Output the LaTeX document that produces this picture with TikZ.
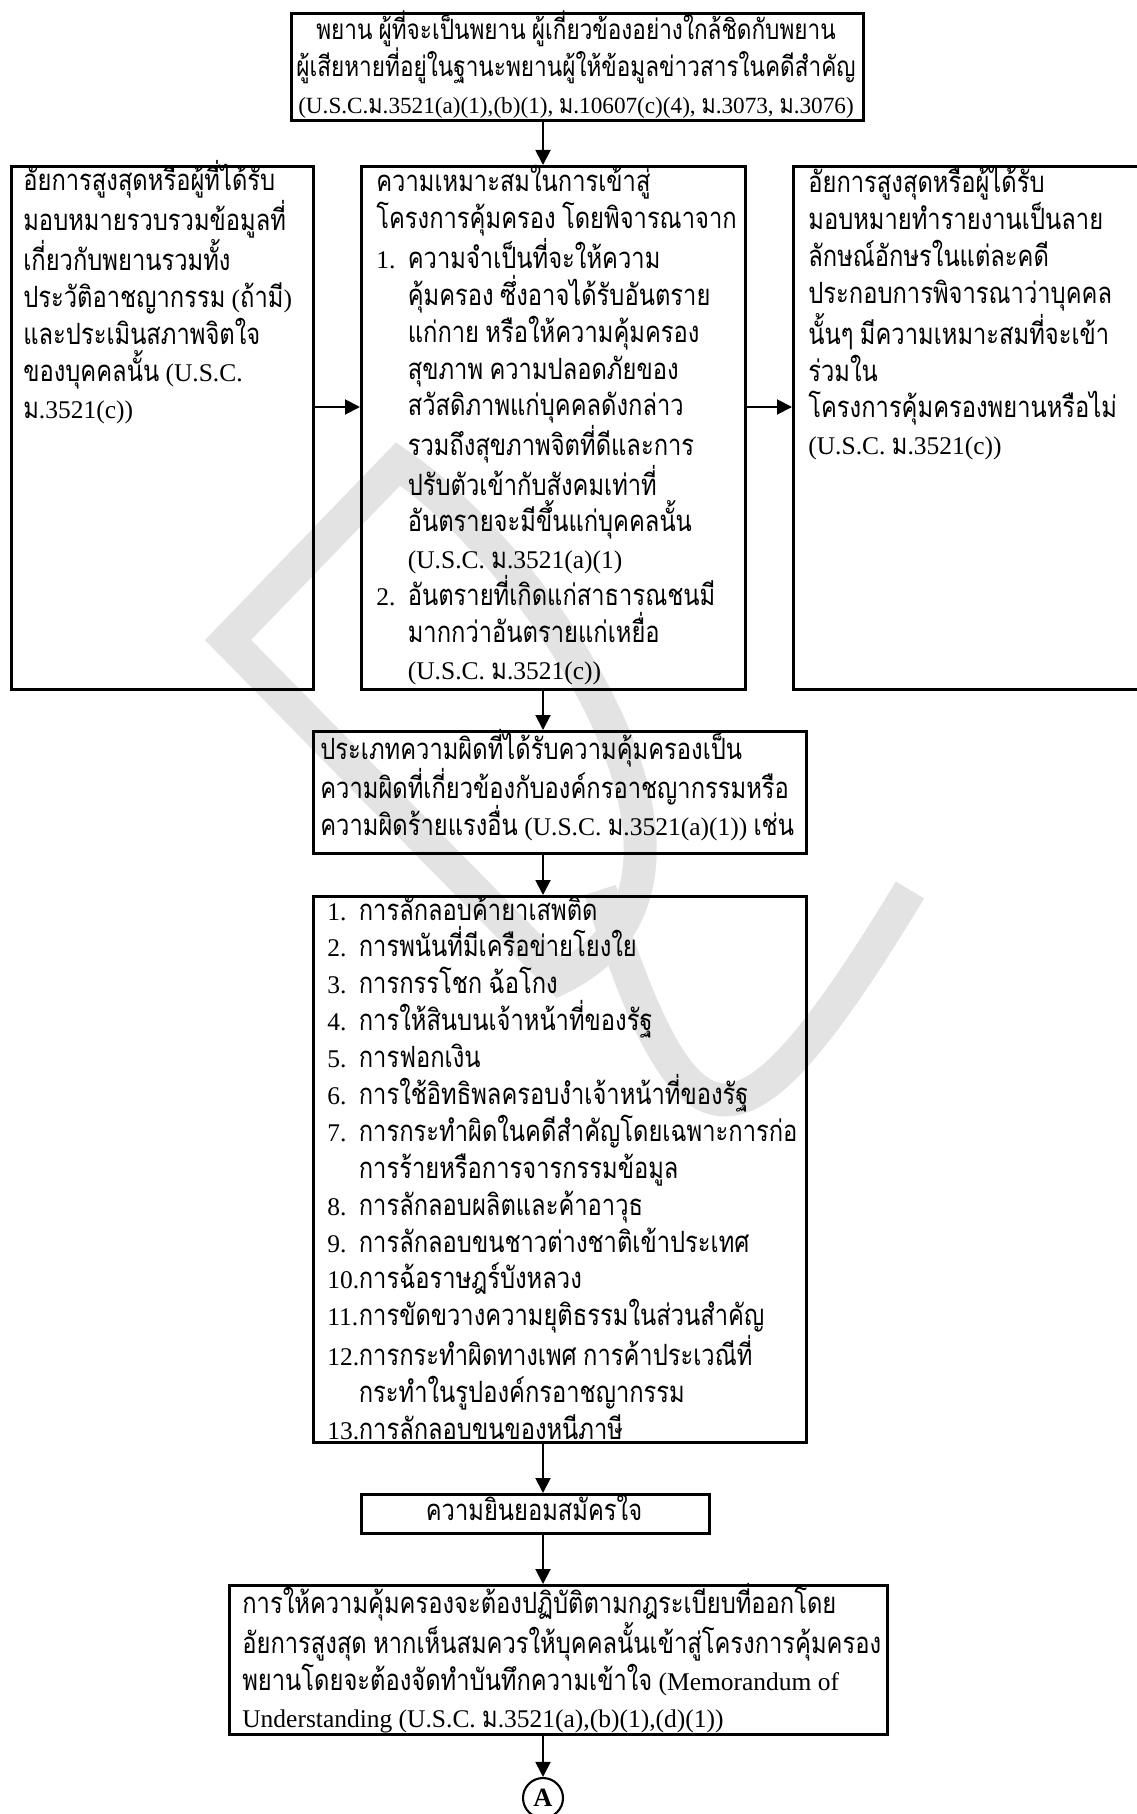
\documentclass[tikz,border=0pt]{standalone}
\usepackage{fontspec}
\setmainfont{Liberation Serif}
\newfontfamily\thaifont[Script=Thai,Scale=1.15,FakeStretch=0.81]{Loma}
\usetikzlibrary{arrows.meta}

% Thai letters switch to the Thai font by themselves
\XeTeXinterchartokenstate=1
\newXeTeXintercharclass\thaiclass
\makeatletter
\count@="0E00
\loop
  \XeTeXcharclass\count@=\thaiclass
  \ifnum\count@<"0E7F \advance\count@\@ne \repeat
\makeatother
\XeTeXinterchartoks 0 \thaiclass = {\thaifont}
\XeTeXinterchartoks 4095 \thaiclass = {\thaifont}
\XeTeXinterchartoks \thaiclass 0 = {\rmfamily}
\XeTeXinterchartoks \thaiclass 4095 = {\rmfamily}
\lineskiplimit=-50pt

\newcommand{\itm}[2]{\makebox[0.63cm][l]{#1}#2}
\newcommand{\cont}{\hspace*{0.63cm}}

\begin{document}
\begin{tikzpicture}[x=0.02cm, y=-0.02cm,
  box/.style={draw, line width=1.6pt, inner sep=0pt, anchor=north west},
  txt/.style={inner sep=0pt, anchor=base west, font=\fontsize{14.5}{21}\selectfont},
  arr/.style={-{Triangle[length=0.3cm, width=0.3cm]}, line width=1.1pt}]
\useasboundingbox (0,0) rectangle (1136,1814);

% watermark
\begin{scope}[draw=gray!22, line width=0.66cm]
\draw (228,640) -- (398,464) .. controls (540,560) and (760,880) .. (560,978) -- cycle;
\draw (600,890) .. controls (690,1170) and (740,1170) .. (910,890);
\end{scope}

% boxes
\node[box, minimum width=11.44cm, minimum height=2.14cm] (top) at (290,12) {};
\node[box, minimum width=6.04cm, minimum height=10.46cm] (left) at (10,165) {};
\node[box, minimum width=7.68cm, minimum height=10.46cm] (mid) at (360,165) {};
\node[box, minimum width=7.2cm, minimum height=10.46cm] (right) at (792,165) {};
\node[box, minimum width=9.86cm, minimum height=2.44cm] (kind) at (312,730) {};
\node[box, minimum width=9.86cm, minimum height=10.92cm] (list) at (312,895) {};
\node[box, minimum width=6.96cm, minimum height=0.78cm] (consent) at (360,1493) {};
\node[box, minimum width=13.16cm, minimum height=2.98cm] (final) at (228,1584) {};
\node[draw, circle, line width=1.2pt, minimum size=0.8cm, inner sep=0pt,
  font=\bfseries\fontsize{15}{15}\selectfont] (a) at (543,1798) {A};

% texts
\node[txt, anchor=base, font=\fontsize{13.8}{21}\selectfont] (top-t) at (576,40) {\parbox[t]{14cm}{\centering
พยาน ผู้ที่จะเป็นพยาน ผู้เกี่ยวข้องอย่างใกล้ชิดกับพยาน\\
ผู้เสียหายที่อยู่ในฐานะพยานผู้ให้ข้อมูลข่าวสารในคดีสำคัญ\\
{\fontsize{13.2}{21}\selectfont (U.S.C.ม.3521(a)(1),(b)(1), ม.10607(c)(4), ม.3073, ม.3076)}}};

\node[txt] (left-t) at (23,191) {\parbox[t]{8cm}{\raggedright
อัยการสูงสุดหรือผู้ที่ได้รับ\\
มอบหมายรวบรวมข้อมูลที่\\
เกี่ยวกับพยานรวมทั้ง\\
ประวัติอาชญากรรม (ถ้ามี)\\
และประเมินสภาพจิตใจ\\
ของบุคคลนั้น (U.S.C.\\
ม.3521(c))}};

\node[txt] (mid-t) at (376,192) {\parbox[t]{9cm}{\raggedright
ความเหมาะสมในการเข้าสู่\\
โครงการคุ้มครอง โดยพิจารณาจาก\\
\itm{1.}{ความจำเป็นที่จะให้ความ}\\
\cont คุ้มครอง ซึ่งอาจได้รับอันตราย\\
\cont แก่กาย หรือให้ความคุ้มครอง\\
\cont สุขภาพ ความปลอดภัยของ\\
\cont สวัสดิภาพแก่บุคคลดังกล่าว\\
\cont รวมถึงสุขภาพจิตที่ดีและการ\\
\cont ปรับตัวเข้ากับสังคมเท่าที่\\
\cont อันตรายจะมีขึ้นแก่บุคคลนั้น\\
\cont (U.S.C. ม.3521(a)(1)\\
\itm{2.}{อันตรายที่เกิดแก่สาธารณชนมี}\\
\cont มากกว่าอันตรายแก่เหยื่อ\\
\cont (U.S.C. ม.3521(c))}};

\node[txt] (right-t) at (808,193) {\parbox[t]{9cm}{\raggedright
อัยการสูงสุดหรือผู้ได้รับ\\
มอบหมายทำรายงานเป็นลาย\\
ลักษณ์อักษรในแต่ละคดี\\
ประกอบการพิจารณาว่าบุคคล\\
นั้นๆ มีความเหมาะสมที่จะเข้า\\
ร่วมใน\\
โครงการคุ้มครองพยานหรือไม่\\
(U.S.C. ม.3521(c))}};

\node[txt] (kind-t) at (320,759) {\parbox[t]{11cm}{\raggedright
ประเภทความผิดที่ได้รับความคุ้มครองเป็น\\
ความผิดที่เกี่ยวข้องกับองค์กรอาชญากรรมหรือ\\
ความผิดร้ายแรงอื่น (U.S.C. ม.3521(a)(1)) เช่น}};

\node[txt] (list-t) at (327,920) {\parbox[t]{11cm}{\raggedright
\itm{1.}{การลักลอบค้ายาเสพติด}\\
\itm{2.}{การพนันที่มีเครือข่ายโยงใย}\\
\itm{3.}{การกรรโชก ฉ้อโกง}\\
\itm{4.}{การให้สินบนเจ้าหน้าที่ของรัฐ}\\
\itm{5.}{การฟอกเงิน}\\
\itm{6.}{การใช้อิทธิพลครอบงำเจ้าหน้าที่ของรัฐ}\\
\itm{7.}{การกระทำผิดในคดีสำคัญโดยเฉพาะการก่อ}\\
\cont การร้ายหรือการจารกรรมข้อมูล\\
\itm{8.}{การลักลอบผลิตและค้าอาวุธ}\\
\itm{9.}{การลักลอบขนชาวต่างชาติเข้าประเทศ}\\
\itm{10.}{การฉ้อราษฎร์บังหลวง}\\
\itm{11.}{การขัดขวางความยุติธรรมในส่วนสำคัญ}\\
\itm{12.}{การกระทำผิดทางเพศ การค้าประเวณีที่}\\
\cont กระทำในรูปองค์กรอาชญากรรม\\
\itm{13.}{การลักลอบขนของหนีภาษี}}};

\node[txt, anchor=base] (consent-t) at (534,1520) {ความยินยอมสมัครใจ};

\node[txt] (final-t) at (242,1613) {\parbox[t]{14cm}{\raggedright
การให้ความคุ้มครองจะต้องปฏิบัติตามกฎระเบียบที่ออกโดย\\
อัยการสูงสุด หากเห็นสมควรให้บุคคลนั้นเข้าสู่โครงการคุ้มครอง\\
พยานโดยจะต้องจัดทำบันทึกความเข้าใจ (Memorandum of\\
Understanding (U.S.C. ม.3521(a),(b)(1),(d)(1))}};

% arrows
\coordinate (h) at (0,407);
\draw[arr] (top.south -| a) -- (mid.north -| a);
\draw[arr] (left.east |- h) -- (mid.west |- h);
\draw[arr] (mid.east |- h) -- (right.west |- h);
\draw[arr] (mid.south -| a) -- (kind.north -| a);
\draw[arr] (kind.south -| a) -- (list.north -| a);
\draw[arr] (list.south -| a) -- (consent.north -| a);
\draw[arr] (consent.south -| a) -- (final.north -| a);
\draw[arr] (final.south -| a) -- (a);
\end{tikzpicture}
\end{document}
